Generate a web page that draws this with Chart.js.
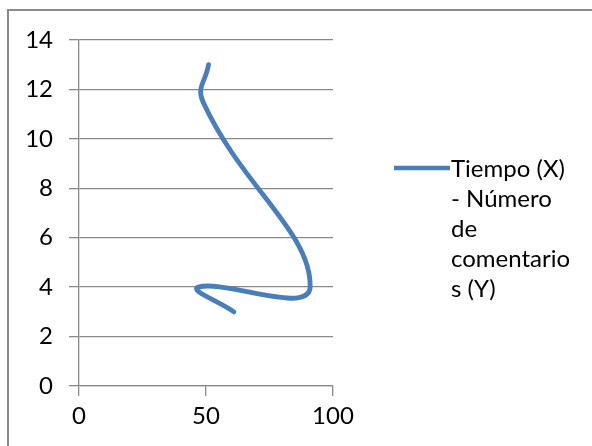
<!DOCTYPE html>
<html>
<head>
<meta charset="utf-8">
<script src="https://cdn.jsdelivr.net/npm/chart.js@4.4.1/dist/chart.umd.min.js"></script>
<style>
  html, body { margin:0; padding:0; background:#fff; }
  #wrap { position:relative; width:592px; height:446px; overflow:hidden; }
  #frame { position:absolute; left:7px; top:9px; width:600px; height:460px; border:2px solid #8a8a8a; box-sizing:border-box; }
  canvas { position:absolute; left:0; top:0; }
</style>
</head>
<body>
<div id="wrap">
  <div id="frame"></div>
  <canvas id="c" width="592" height="446"></canvas>
</div>
<script>
// ── Tiempo vs número de comentarios (scatter, smoothed line) ────────────────
const tiempo      = [61, 47, 91, 48.8, 51];
const comentarios = [3, 4, 4, 11.5, 13];
const xTicks = [0, 50, 100];
const yTicks = [0, 2, 4, 6, 8, 10, 12, 14];
const seriesLabel = ["Tiempo (X)", "- Número", "de", "comentario", "s (Y)"];

const C = { line:"#4A7EBB", grid:"#8a8a8a", ink:"#000" };
const FONT = { family:"Lato, 'Open Sans', sans-serif", size:24 };

// legend on the right, wrapped like the original text box
const sideLegend = {
  id:"sideLegend",
  afterDraw(chart){
    const { ctx } = chart;
    const ds = chart.data.datasets[0];
    ctx.save();
    ctx.strokeStyle = ds.borderColor;
    ctx.lineWidth = 4.5;
    ctx.beginPath(); ctx.moveTo(394, 168); ctx.lineTo(450, 168); ctx.stroke();
    ctx.fillStyle = C.ink;
    ctx.font = `${FONT.size}px ${FONT.family}`;
    ctx.textBaseline = "middle";
    seriesLabel.forEach((t, i) => ctx.fillText(t, 451, 169 + i * 30));
    ctx.restore();
  }
};

new Chart(document.getElementById("c"), {
  type:"scatter",
  data:{ datasets:[{
    label: seriesLabel.join(" "),
    data: tiempo.map((x, i) => ({ x, y: comentarios[i] })),
    showLine:true, borderColor:C.line, borderWidth:4.8,
    pointRadius:0, pointHoverRadius:0, tension:0.45, borderCapStyle:"round",
  }]},
  options:{
    responsive:false, animation:false,
    layout:{ padding:{ left:0, right:259, top:40, bottom:20 } },
    plugins:{ legend:{ display:false }, tooltip:{ enabled:false } },
    scales:{
      x:{ type:"linear", min:0, max:100,
          afterBuildTicks:s => { s.ticks = xTicks.map(v => ({ value:v })); },
          afterFit:s => { s.height = 40; },
          grid:{ drawOnChartArea:false, drawTicks:true, tickLength:10, color:C.grid, lineWidth:1.3 },
          border:{ color:C.grid, width:1.3 },
          ticks:{ color:C.ink, font:FONT, padding:6, maxRotation:0 } },
      y:{ type:"linear", min:0, max:14,
          afterBuildTicks:s => { s.ticks = yTicks.map(v => ({ value:v })); },
          afterFit:s => { s.width = 79; },
          grid:{ color:C.grid, lineWidth:1.3, tickLength:10 },
          border:{ color:C.grid, width:1.3 },
          ticks:{ color:C.ink, font:FONT, padding:16 } },
    },
  },
  plugins:[sideLegend],
});
</script>
</body>
</html>
